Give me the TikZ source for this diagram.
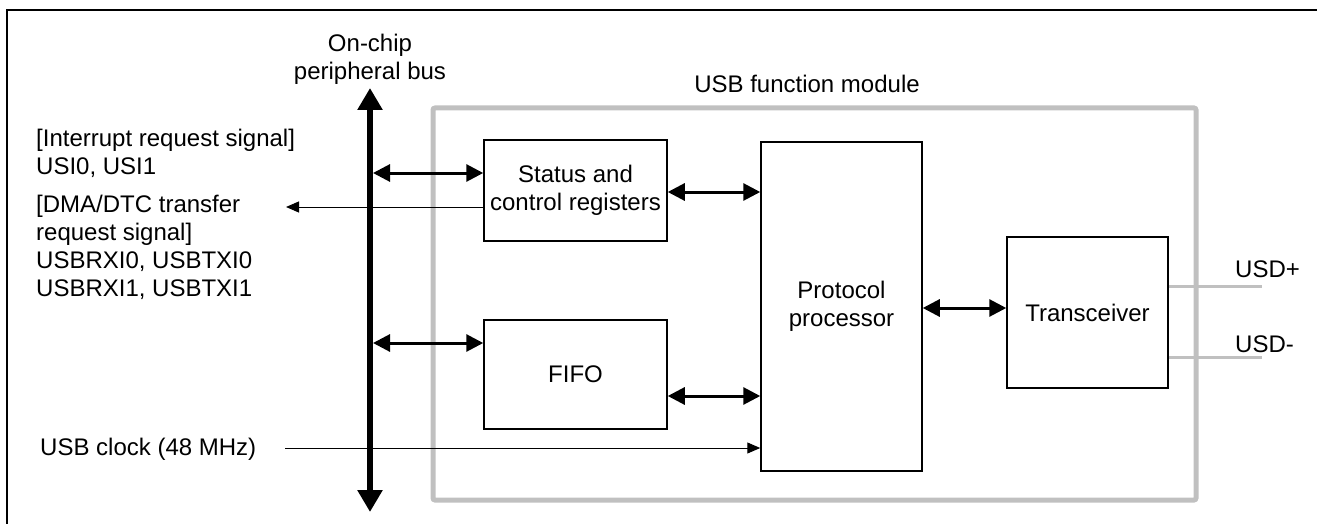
\documentclass[tikz,border=0pt]{standalone}
\usepackage{fontspec}
\setmainfont{Liberation Sans}
\usetikzlibrary{arrows.meta}
\definecolor{modgray}{RGB}{192,192,192}
\tikzset{
  every node/.style={font=\fontsize{24}{28}\selectfont, inner sep=0pt},
  blockbox/.style={draw, line width=1.5pt, fill=white},
  busarrow/.style={line width=5.5pt, {Triangle[length=22pt,width=24pt]}-{Triangle[length=22pt,width=24pt]}},
  biarrow/.style={line width=3pt, {Triangle[length=17pt,width=17pt]}-{Triangle[length=17pt,width=17pt]}},
  thinarrow/.style={line width=1pt, -{Triangle[length=13pt,width=11pt]}},
  grayline/.style={draw=modgray, line width=3pt},
  txt/.style={anchor=base west, align=left}
}
\begin{document}
\begin{tikzpicture}[x=1pt,y=-1pt]
\useasboundingbox (0,0) rectangle (1317,524);
% frame
\draw[line width=2pt] (1317,10) -- (7,10) -- (7,524);
% module box
\draw[draw=modgray, line width=5pt, rounded corners=2pt] (433,108) rectangle (1196,500);
\node[anchor=base] (modlbl) at (807,93) {USB function module};
% bus
\coordinate (bustop) at (370,88);
\coordinate (busbot) at (370,512);
\draw[busarrow] (bustop) -- (busbot);
\node[anchor=base, align=center] (buslbl) at (370,80) {On-chip\\peripheral bus};
% blocks
\node[blockbox, minimum width=183pt, minimum height=101pt, align=center] (status) at (575.5,190.5) {Status and\\control registers};
\node[blockbox, minimum width=183pt, minimum height=109pt] (fifo) at (575.5,374.5) {FIFO};
\node[blockbox, minimum width=161pt, minimum height=329pt, align=center] (proto) at (841.5,306.5) {Protocol\\processor};
\node[blockbox, minimum width=161pt, minimum height=151pt] (trx) at (1087.5,312.5) {Transceiver};
% bus connections
\coordinate (bs) at (373,173);
\coordinate (bf) at (373,343);
\draw[biarrow] (bs) -- (status.west |- bs);
\draw[biarrow] (bf) -- (fifo.west |- bf);
% internal connections
\draw[biarrow] (status.east |- 0,192) -- (proto.west |- 0,192);
\draw[biarrow] (fifo.east |- 0,396) -- (proto.west |- 0,396);
\draw[biarrow] (proto.east |- 0,308) -- (trx.west |- 0,308);
% DMA request arrow
\coordinate (dmaend) at (286,207);
\draw[thinarrow] (status.west |- dmaend) -- (dmaend);
% USB clock
\coordinate (clkstart) at (285,448);
\draw[thinarrow] (clkstart) -- (proto.west |- clkstart);
% USD lines
\coordinate (usdp) at (1262,286);
\coordinate (usdm) at (1262,357);
\draw[grayline] (trx.east |- usdp) -- (usdp);
\draw[grayline] (trx.east |- usdm) -- (usdm);
\node[anchor=base west] (usdplbl) at (1235,277) {USD+};
\node[anchor=base west] (usdmlbl) at (1235,352) {USD-};
% left texts
\node[txt] (irq) at (36,174) {[Interrupt request signal]\\USI0, USI1};
\node[txt] (dma) at (36,296) {[DMA/DTC transfer\\request signal]\\USBRXI0, USBTXI0\\USBRXI1, USBTXI1};
\node[anchor=base west] (clk) at (40,455) {USB clock (48 MHz)};
\end{tikzpicture}
\end{document}
